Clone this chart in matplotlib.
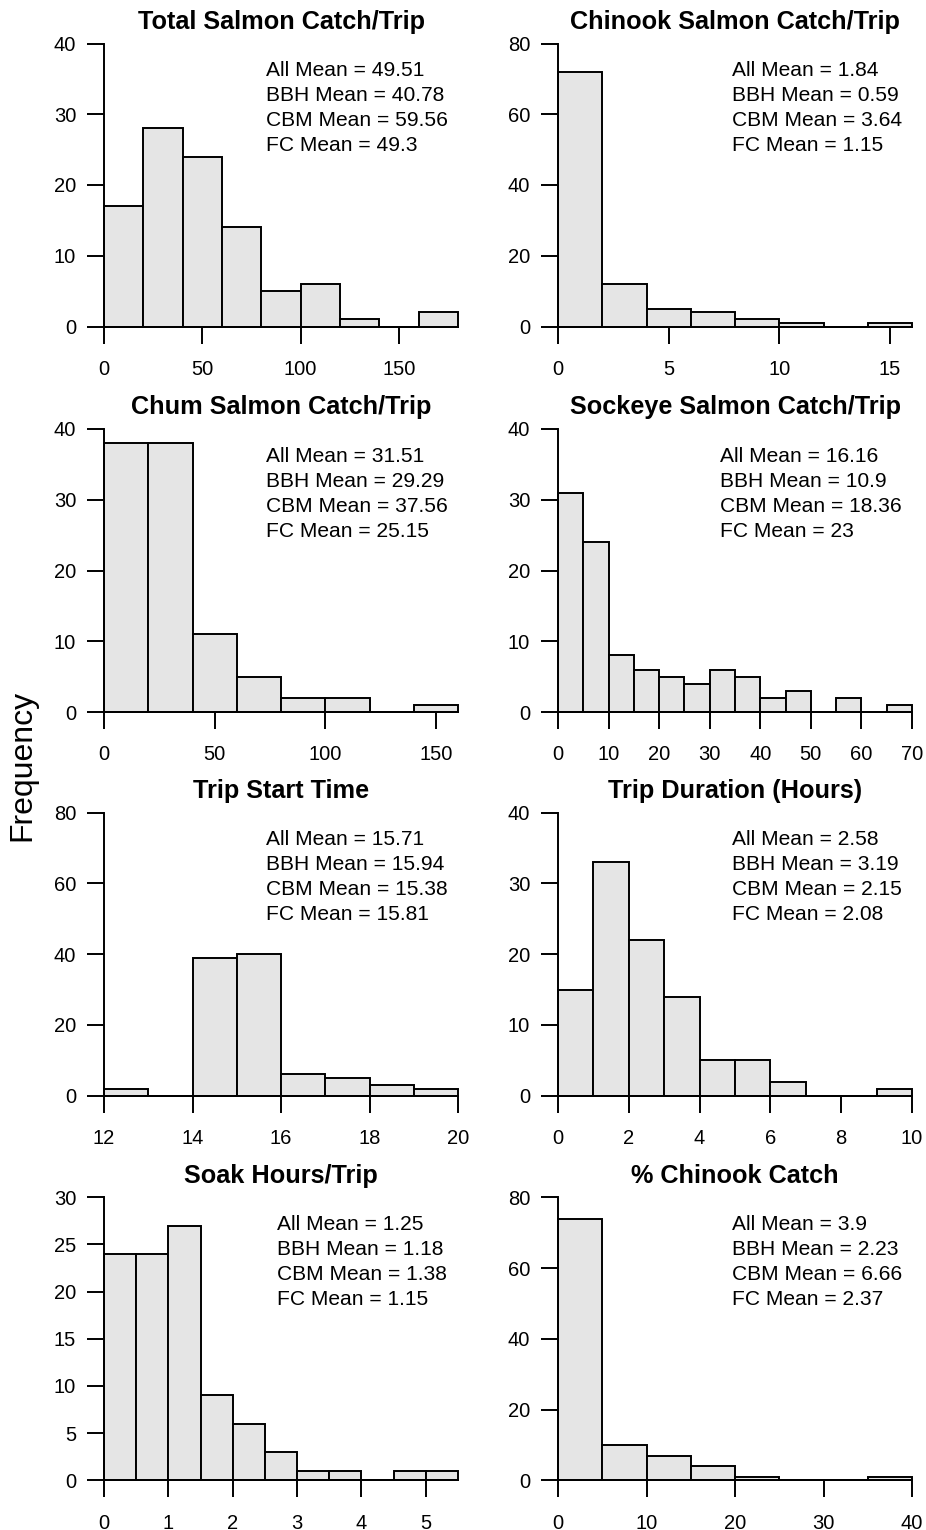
import matplotlib
matplotlib.use("Agg")
import matplotlib.pyplot as plt
import numpy as np

plt.rcParams['font.family'] = ['Liberation Sans', 'DejaVu Sans']

# ---- data ----
titles = ["Total Salmon Catch/Trip", "Chinook Salmon Catch/Trip",
          "Chum Salmon Catch/Trip", "Sockeye Salmon Catch/Trip",
          "Trip Start Time", "Trip Duration (Hours)",
          "Soak Hours/Trip", "% Chinook Catch"]

total_edges = np.arange(0, 181, 20)
total_counts = [17, 28, 24, 14, 5, 6, 1, 0, 2]

chinook_edges = np.arange(0, 17, 2)
chinook_counts = [72, 12, 5, 4, 2, 1, 0, 1]

chum_edges = np.arange(0, 161, 20)
chum_counts = [38, 38, 11, 5, 2, 2, 0, 1]

sockeye_edges = np.arange(0, 71, 5)
sockeye_counts = [31, 24, 8, 6, 5, 4, 6, 5, 2, 3, 0, 2, 0, 1]

start_edges = np.arange(12, 21, 1)
start_counts = [2, 0, 39, 40, 6, 5, 3, 2]

duration_edges = np.arange(0, 11, 1)
duration_counts = [15, 33, 22, 14, 5, 5, 2, 0, 0, 1]

soak_edges = np.arange(0, 5.51, 0.5)
soak_counts = [24, 24, 27, 9, 6, 3, 1, 1, 0, 1, 1]

pctchin_edges = np.arange(0, 41, 5)
pctchin_counts = [74, 10, 7, 4, 1, 0, 0, 1]

edges_list = [total_edges, chinook_edges, chum_edges, sockeye_edges,
              start_edges, duration_edges, soak_edges, pctchin_edges]
counts_list = [total_counts, chinook_counts, chum_counts, sockeye_counts,
               start_counts, duration_counts, soak_counts, pctchin_counts]

yticks_list = [np.arange(0, 41, 10), np.arange(0, 81, 20),
               np.arange(0, 41, 10), np.arange(0, 41, 10),
               np.arange(0, 81, 20), np.arange(0, 41, 10),
               np.arange(0, 31, 5), np.arange(0, 81, 20)]
xticks_list = [[0, 50, 100, 150], [0, 5, 10, 15],
               [0, 50, 100, 150], np.arange(0, 71, 10),
               np.arange(12, 21, 2), np.arange(0, 11, 2),
               np.arange(0, 6, 1), np.arange(0, 41, 10)]

mean_labels = [
    ["All Mean = 49.51", "BBH Mean = 40.78", "CBM Mean = 59.56", "FC Mean = 49.3"],
    ["All Mean = 1.84", "BBH Mean = 0.59", "CBM Mean = 3.64", "FC Mean = 1.15"],
    ["All Mean = 31.51", "BBH Mean = 29.29", "CBM Mean = 37.56", "FC Mean = 25.15"],
    ["All Mean = 16.16", "BBH Mean = 10.9", "CBM Mean = 18.36", "FC Mean = 23"],
    ["All Mean = 15.71", "BBH Mean = 15.94", "CBM Mean = 15.38", "FC Mean = 15.81"],
    ["All Mean = 2.58", "BBH Mean = 3.19", "CBM Mean = 2.15", "FC Mean = 2.08"],
    ["All Mean = 1.25", "BBH Mean = 1.18", "CBM Mean = 1.38", "FC Mean = 1.15"],
    ["All Mean = 3.9", "BBH Mean = 2.23", "CBM Mean = 6.66", "FC Mean = 2.37"],
]
text_x = [0.457, 0.491, 0.457, 0.458, 0.457, 0.491, 0.489, 0.491]

# ---- layout ----
W, H = 926, 1530
fig = plt.figure(figsize=(W / 100, H / 100), dpi=100)
col_x = [104, 558]
ax_w = 354
row_tops = [43.5, 429, 812.7, 1197.3]
ax_h = 283

lw = 1.4
fs_tick = 14.5
fs_text = 15.1
for i in range(8):
    r, c = divmod(i, 2)
    left = col_x[c] / W
    bottom = 1 - (row_tops[r] + ax_h) / H
    ax = fig.add_axes([left, bottom, ax_w / W, ax_h / H])
    e = np.asarray(edges_list[i], dtype=float)
    cnt = counts_list[i]
    ax.bar(e[:-1], cnt, width=np.diff(e), align='edge', color='#e5e5e5',
           edgecolor='black', linewidth=lw, clip_on=False, zorder=2)
    ax.set_xlim(e[0], e[-1])
    yt = yticks_list[i]
    ax.set_ylim(0, yt[-1])
    ax.set_yticks(yt)
    ax.set_xticks(xticks_list[i])
    ax.set_xticklabels([("%g" % v) for v in xticks_list[i]])
    for s in ['top', 'right']:
        ax.spines[s].set_visible(False)
    for s in ['left', 'bottom']:
        ax.spines[s].set_linewidth(lw)
        ax.spines[s].set_zorder(3)
    ax.tick_params(axis='both', direction='out', length=12, width=lw,
                   labelsize=fs_tick, colors='black')
    ax.tick_params(axis='y', pad=8)
    ax.tick_params(axis='x', pad=12)
    ax.set_title(titles[i], fontsize=18.2, fontweight='bold', pad=10.5)
    for k, line in enumerate(mean_labels[i]):
        ax.annotate(line, xy=(text_x[i], 1), xycoords='axes fraction',
                    xytext=(0, -19.5 - 18 * k), textcoords='offset points',
                    ha='left', va='center', fontsize=fs_text)

fig.text(22 / W, 0.5, "Frequency", rotation=90, ha='center', va='center',
         fontsize=23)

fig.savefig("out.png", dpi=100)
